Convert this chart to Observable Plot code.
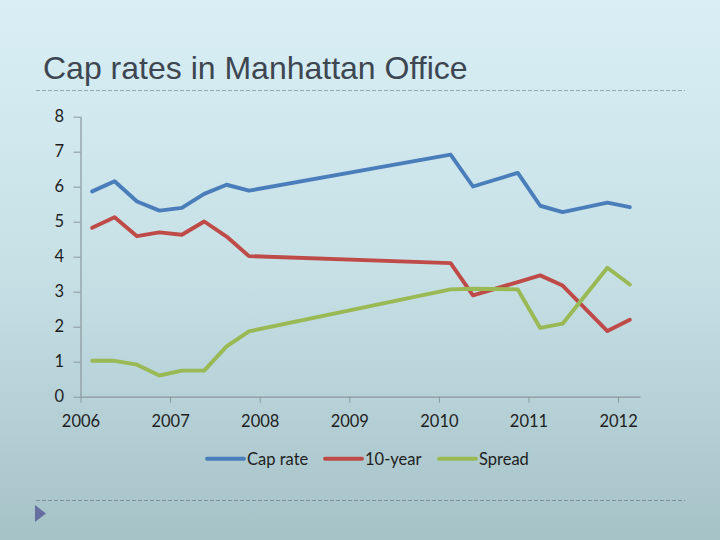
<!DOCTYPE html>
<html>
<head>
<meta charset="utf-8">
<script src="https://cdn.jsdelivr.net/npm/d3@7"></script>
<script src="https://cdn.jsdelivr.net/npm/@observablehq/plot@0.6"></script>
<style>
  html, body { margin: 0; padding: 0; }
  #slide {
    position: relative; width: 720px; height: 540px; overflow: hidden;
    background: linear-gradient(180deg, #d9eff5 0%, #c6e0e6 50%, #a5c2c7 100%);
  }
  #slide > svg { position: absolute; left: 0; top: 0; }
</style>
</head>
<body>
<div id="slide"></div>
<script>
const dates    = [2006.125, 2006.375, 2006.625, 2006.875, 2007.125, 2007.375, 2007.625, 2007.875,
                  2010.125, 2010.375, 2010.875, 2011.125, 2011.375, 2011.875, 2012.125];
const capRate  = [5.88, 6.17, 5.59, 5.33, 5.41, 5.81, 6.07, 5.90, 6.93, 6.02, 6.41, 5.47, 5.29, 5.56, 5.43];
const tenYear  = [4.84, 5.14, 4.60, 4.71, 4.64, 5.02, 4.59, 4.03, 3.83, 2.91, 3.29, 3.48, 3.19, 1.89, 2.21];
const spread   = [1.04, 1.04, 0.93, 0.62, 0.76, 0.76, 1.45, 1.88, 3.08, 3.10, 3.08, 1.98, 2.10, 3.70, 3.22];
const seriesNames  = ["Cap rate", "10-year", "Spread"];
const seriesColors = ["#4a7ebb", "#be4b48", "#98b954"];
const yearTicks = [2006, 2007, 2008, 2009, 2010, 2011, 2012];
const valueTicks = [0, 1, 2, 3, 4, 5, 6, 7, 8];
const titleText = "Cap rates in Manhattan Office";

const seriesValues = [capRate, tenYear, spread];
const data = seriesNames.flatMap((name, s) =>
  dates.map((d, i) => ({date: d, value: seriesValues[s][i], series: name})));

const axisColor = "#8a989d";
const chart = Plot.plot({
  width: 720, height: 440,
  marginLeft: 80.5, marginRight: 79.5, marginTop: 116.7, marginBottom: 43.3,
  x: {domain: [2006, 2012.25]},
  y: {domain: [0, 8]},
  color: {domain: seriesNames, range: seriesColors},
  style: {background: "transparent", fontFamily: "Lato, 'Open Sans', sans-serif", fontSize: "16.5px", color: "#1e1e1e", overflow: "visible"},
  marks: [
    Plot.ruleX([2006], {stroke: axisColor, strokeWidth: 1.2}),
    Plot.ruleY([0], {stroke: axisColor, strokeWidth: 1.2}),
    Plot.axisY({ticks: valueTicks, tickSize: 7, tickPadding: 10, stroke: axisColor, fill: "#1e1e1e", label: null}),
    Plot.axisX({ticks: yearTicks, tickFormat: d => String(d), tickSize: 6, tickPadding: 12, stroke: axisColor, fill: "#1e1e1e", label: null}),
    Plot.lineY(data, {x: "date", y: "value", z: "series", stroke: "series", strokeWidth: 3.9, strokeLinejoin: "round", strokeLinecap: "round"})
  ]
});

const slide = document.getElementById("slide");
slide.appendChild(chart);

// Decorative overlay: title, dashed rules, bullet triangle, legend
const over = d3.create("svg").attr("width", 720).attr("height", 540);
over.append("text").attr("x", 43).attr("y", 79)
  .attr("font-family", "'Liberation Sans', Arial, sans-serif").attr("font-size", 32)
  .attr("fill", "#3d4651").text(titleText);
over.append("line").attr("x1", 36).attr("x2", 685).attr("y1", 90.5).attr("y2", 90.5)
  .attr("stroke", "#93a7b0").attr("stroke-dasharray", "4,2");
over.append("line").attr("x1", 36).attr("x2", 685).attr("y1", 500.5).attr("y2", 500.5)
  .attr("stroke", "#7c8f98").attr("stroke-dasharray", "4,2");
over.append("path").attr("d", "M35,505 L46,513.5 L35,522 Z").attr("fill", "#6670a0");

const legendX = [207, 325, 439];
const lg = over.append("g").attr("font-family", "Lato, 'Open Sans', sans-serif").attr("font-size", 16.5).attr("fill", "#1e1e1e");
seriesNames.forEach((name, i) => {
  lg.append("line").attr("x1", legendX[i]).attr("x2", legendX[i] + 37)
    .attr("y1", 458.7).attr("y2", 458.7)
    .attr("stroke", seriesColors[i]).attr("stroke-width", 3.9).attr("stroke-linecap", "round");
  lg.append("text").attr("x", legendX[i] + 40).attr("y", 464.5).text(name);
});
slide.appendChild(over.node());
</script>
</body>
</html>
